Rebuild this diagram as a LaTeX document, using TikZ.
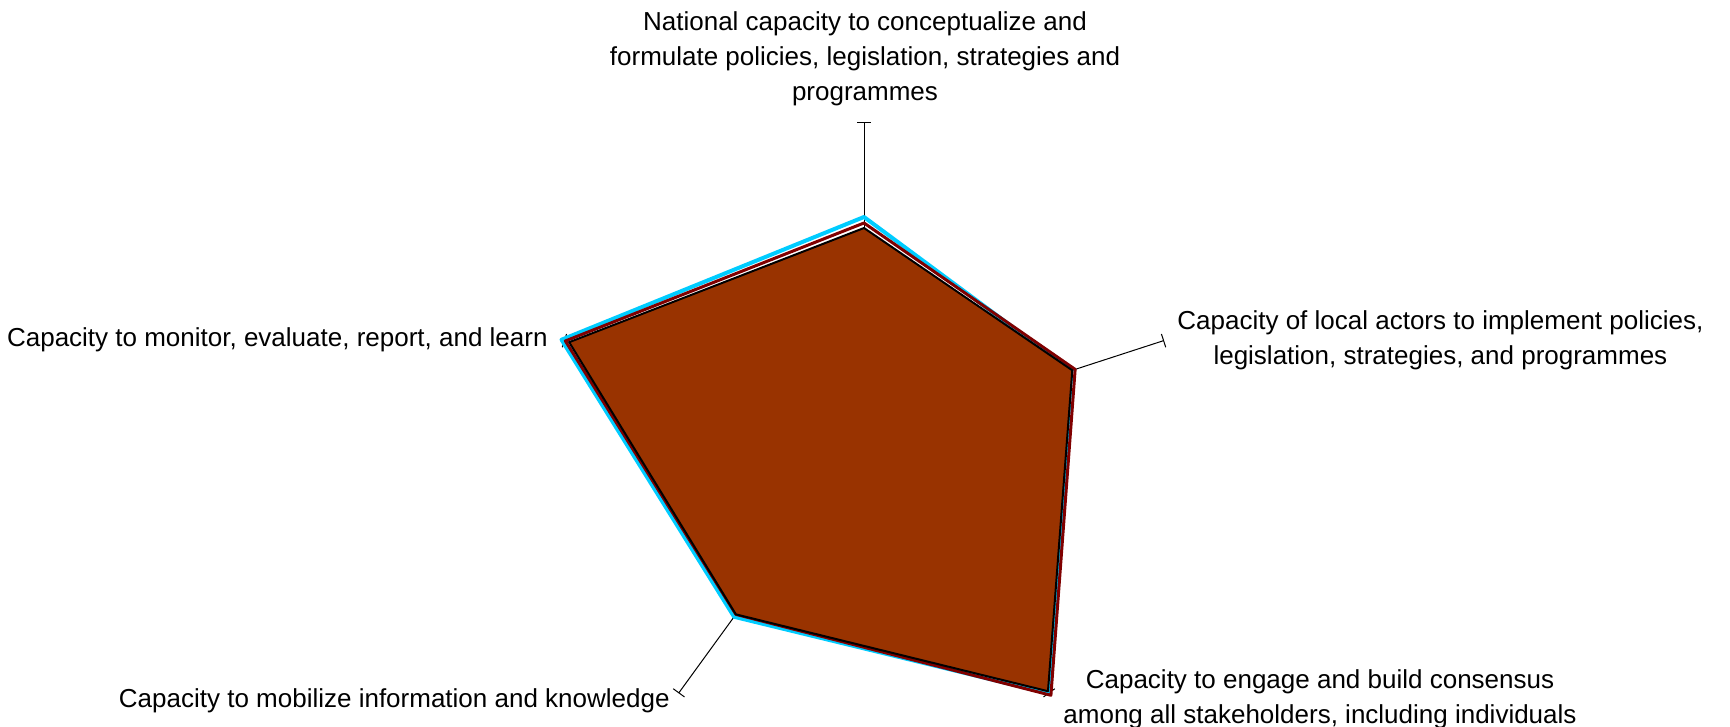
\documentclass[tikz,border=0pt]{standalone}
\usepackage{fontspec}
\setmainfont{Liberation Sans}
\usetikzlibrary{positioning}
\definecolor{skyline}{HTML}{00CCFF}
\definecolor{darkline}{HTML}{800000}
\definecolor{brownfill}{HTML}{993300}
\tikzset{axislabel/.style={font=\fontsize{13}{17.5}\selectfont, align=center, inner sep=0pt}}

\begin{document}
\begin{tikzpicture}[x=0.5pt,y=0.5pt]
            \useasboundingbox (0,0) rectangle (1730,727);
            \begin{scope}[shift={(864,289)}]
            \foreach \a in {90,18,-54,-126,162}
                \draw[black, line width=0.5pt] (0,0) -- (\a:315) ++(\a+90:7) -- ++(\a-90:14);
            \draw[skyline, line width=2pt, line join=round] (90:221) -- (18:218) -- (-54:316) -- (-126:221) -- (162:318) -- cycle;
            \draw[darkline, line width=1.5pt, line join=round] (90:215) -- (18:222) -- (-54:318) -- (-126:218) -- (162:314) -- cycle;
            \draw[black, fill=brownfill, line width=1pt, line join=round] (90:210) -- (18:219) -- (-54:313) -- (-126:218) -- (162:310) -- cycle;
            \end{scope}
            \node[axislabel] (policy) at (865,668) {National capacity to conceptualize and\\formulate policies, legislation, strategies and\\programmes};
            \node[axislabel, anchor=west] (local) at (1177,387) {Capacity of local actors to implement policies,\\legislation, strategies, and programmes};
            \node[axislabel, anchor=east] (monitor) at (548,387) {Capacity to monitor, evaluate, report, and learn};
            \node[axislabel, anchor=east] (mobilize) at (670,26) {Capacity to mobilize information and knowledge};
            \node[axislabel] (engage) at (1320,28) {Capacity to engage and build consensus\\among all stakeholders, including individuals};
\end{tikzpicture}
\end{document}
